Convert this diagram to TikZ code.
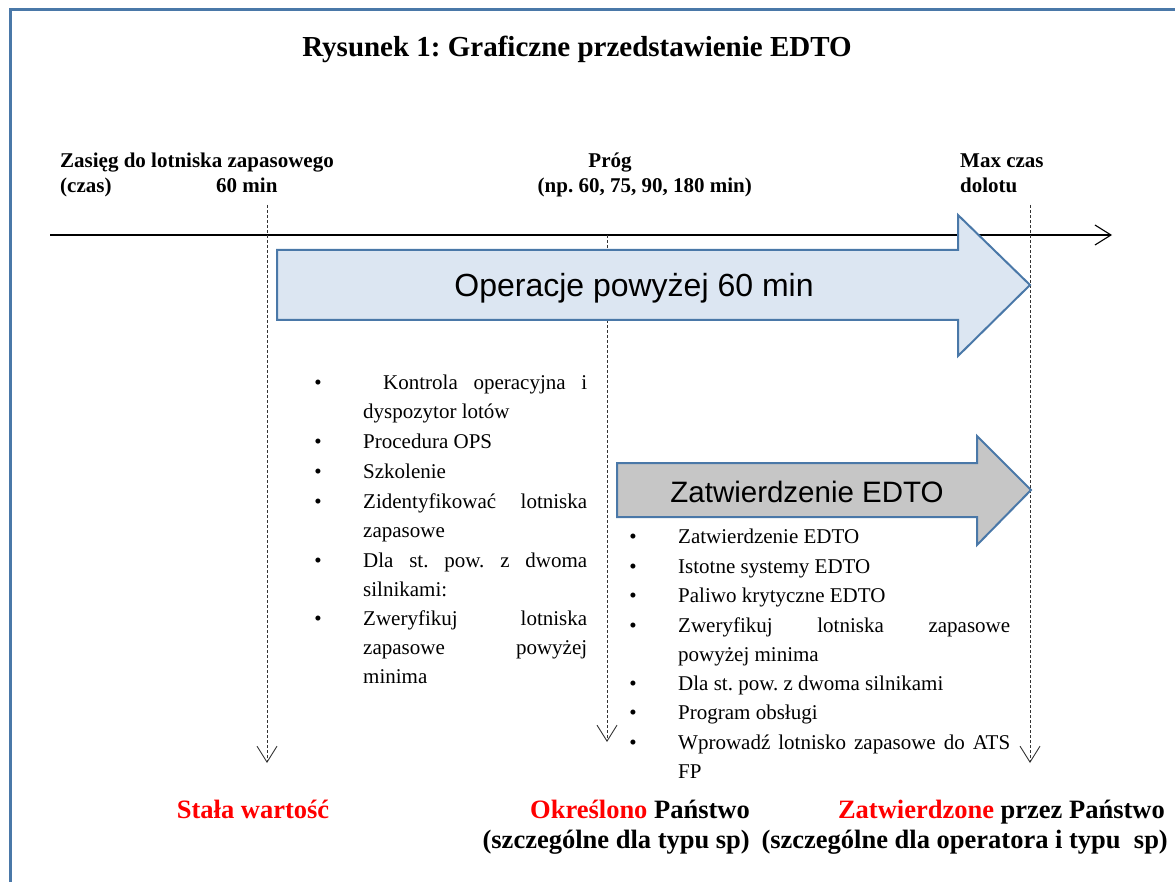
\documentclass[tikz,border=0pt]{standalone}
\usepackage{fontspec}
\setmainfont{Liberation Serif}
\newfontfamily\arrowfont{Liberation Sans}
\usetikzlibrary{arrows.meta,positioning}
\definecolor{frameblue}{HTML}{4A78A8}
\definecolor{opsblue}{HTML}{DCE6F2}
\definecolor{edtogrey}{HTML}{C6C6C6}
\definecolor{markred}{HTML}{FF0000}
\frenchspacing

\begin{document}
\begin{tikzpicture}[x=1pt,y=-1pt,
    toplabel/.style={font=\fontsize{21}{25}\selectfont\bfseries,inner sep=0pt},
    bottomlabel/.style={font=\fontsize{26.5}{30}\selectfont\bfseries,inner sep=0pt,anchor=base east},
    listitem/.style={font=\fontsize{21}{29.4}\selectfont,inner sep=0pt,align=justify,anchor=base west},
    bulletmark/.style={font=\fontsize{21}{25}\selectfont,inner sep=0pt,anchor=base},
    bigarrow/.style={draw=frameblue,line width=2pt,line join=miter},
    arrowlabel/.style={font=\arrowfont\fontsize{#1}{#1}\selectfont,inner sep=0pt,anchor=base},
    timeline/.style={draw=black!80,line width=0.9pt,dash pattern=on 3pt off 2pt,
      -{Straight Barb[length=16pt,width=20pt,line width=0.9pt]}}
  ]
      \useasboundingbox (0,0) rectangle (1175,882);
      \clip (0,0) rectangle (1175,882);
      % Draw the frame
      \draw[frameblue,line width=3pt] (10,10) rectangle (1200,905);
      % Title
      \node[font=\fontsize{29}{33}\selectfont\bfseries,inner sep=0pt,anchor=base] (title) at (577,57)
        {Rysunek 1: Graficzne przedstawienie EDTO};
      % Labels above the time axis
      \node[toplabel,anchor=base west] (range1) at (60,168) {Zasięg do lotniska zapasowego};
      \node[toplabel,anchor=base west] (range2) at (60,193) {(czas)};
      \node[toplabel,anchor=base west] (sixty) at (216,193) {60 min};
      \node[toplabel,anchor=base] (prog1) at (610,168) {Próg};
      \node[toplabel,anchor=base east] (prog2) at (752,193) {(np. 60, 75, 90, 180 min)};
      \node[toplabel,anchor=base west] (max1) at (960,168) {Max czas};
      \node[toplabel,anchor=base west] (max2) at (960,193) {dolotu};
      % Draw the time axis
      \coordinate (axisstart) at (50,235);
      \coordinate (axisend) at (1112,235);
      \draw[line width=1.1pt,-{Straight Barb[length=16pt,width=20pt,line width=1.1pt]}]
        (axisstart) -- (axisend);
      % Draw the dashed time marks
      \foreach \m/\x/\top/\bot in {fixed/267/205/763, threshold/607/235/742, maxtime/1030/205/763} {
        \coordinate (\m top) at (\x,\top);
        \coordinate (\m bot) at (\x,\bot);
        \draw[timeline] (\m top) -- (\m bot);
      }
      % Operations arrow
      \draw[bigarrow,fill=opsblue] (277,250) -- (958,250) -- (958,215) -- (1030,285)
        -- (958,356) -- (958,320) -- (277,320) -- cycle;
      \node[arrowlabel=32] (ops) at (634,297) {Operacje powyżej 60 min};
      % Approval arrow
      \draw[bigarrow,fill=edtogrey] (617,463) -- (977,463) -- (977,436) -- (1031,490)
        -- (977,545) -- (977,517) -- (617,517) -- cycle;
      \node[arrowlabel=29.5] (edto) at (807,502) {Zatwierdzenie EDTO};
      % Requirements above 60 min
      \foreach \n/\y/\txt in {1/389/{\hspace*{20pt}Kontrola operacyjna i\linebreak dyspozytor lotów},
          2/448/{Procedura OPS}, 3/478/{Szkolenie},
          4/508/{Zidentyfikować lotniska\linebreak zapasowe},
          5/567/{Dla st. pow. z dwoma\linebreak silnikami:},
          6/625/{Zweryfikuj lotniska\linebreak zapasowe powyżej\linebreak minima}} {
        \node[bulletmark] (lb\n) at (318,\y) {\textbullet};
        \node[listitem,text width=224pt] (li\n) at (363,\y) {\txt};
      }
      % Requirements for EDTO approval
      \foreach \n/\y/\txt in {1/543/{Zatwierdzenie EDTO}, 2/573/{Istotne systemy EDTO},
          3/602/{Paliwo krytyczne EDTO},
          4/632/{Zweryfikuj lotniska zapasowe\linebreak powyżej minima},
          5/690/{Dla st. pow. z dwoma silnikami}, 6/719/{Program obsługi},
          7/749/{Wprowadź lotnisko zapasowe do ATS\linebreak FP}} {
        \node[bulletmark] (rb\n) at (633,\y) {\textbullet};
        \node[listitem,text width=332pt] (ri\n) at (678,\y) {\txt};
      }
      % Labels below the marks
      \node[bottomlabel,anchor=base,text=markred] (fixedlbl) at (253,818) {Stała wartość};
      \node[bottomlabel] (state1) at (750,818) {\textcolor{markred}{Określono} Państwo};
      \node[bottomlabel] (state2) at (750,848) {(szczególne dla typu sp)};
      \node[bottomlabel] (approved1) at (1165,818) {\textcolor{markred}{Zatwierdzone} przez Państwo};
      \node[bottomlabel] (approved2) at (1168,848) {(szczególne dla operatora i typu~ sp)};
    \end{tikzpicture}
\end{document}
